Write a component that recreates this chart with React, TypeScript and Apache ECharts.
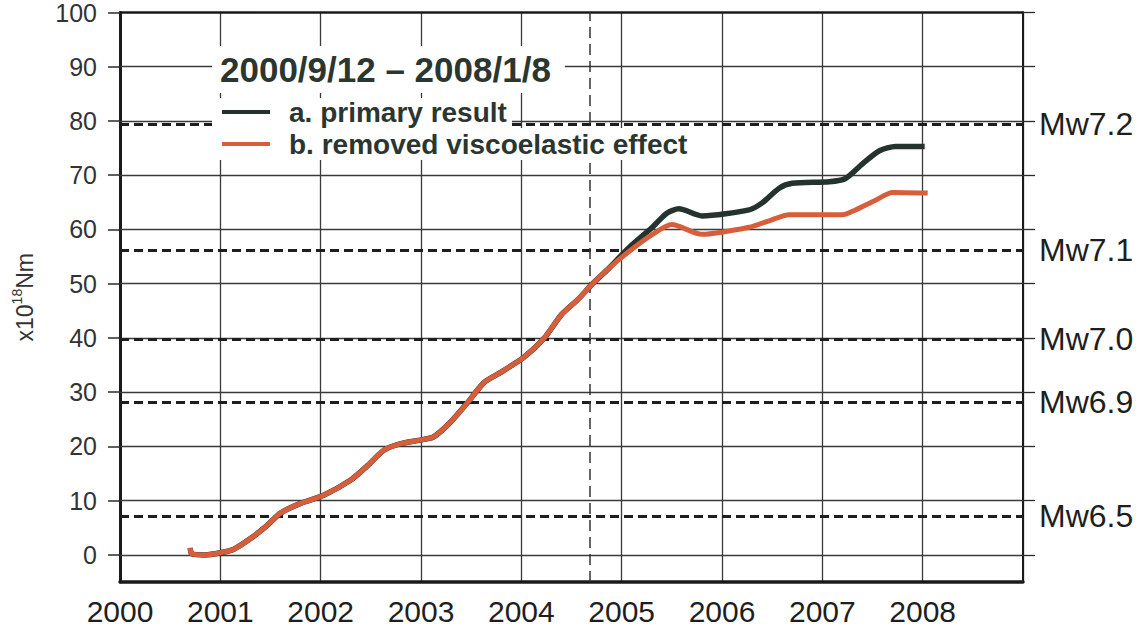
import React, { useEffect, useRef } from "react";
import * as echarts from "echarts";

// ---- data ----
const yearTicks = [2000, 2001, 2002, 2003, 2004, 2005, 2006, 2007, 2008];
const momentTicks = [0, 10, 20, 30, 40, 50, 60, 70, 80, 90, 100];

const sharedYears = [
  2000.7, 2000.715, 2000.85, 2001.0, 2001.13, 2001.3, 2001.47, 2001.6, 2001.8,
  2002.03, 2002.3, 2002.47, 2002.63, 2002.8, 2003.03, 2003.13, 2003.3, 2003.47,
  2003.63, 2003.8, 2004.03, 2004.23, 2004.4, 2004.57, 2004.7, 2004.87,
];
const sharedValues = [
  1.3, 0.2, 0.0, 0.4, 1.0, 3.0, 5.5, 7.7, 9.5,
  11.0, 13.8, 16.5, 19.3, 20.5, 21.3, 21.8, 24.6, 28.2,
  31.8, 33.7, 36.5, 40.0, 44.3, 47.2, 49.8, 52.8,
];

const primaryTailYears = [
  2005.07, 2005.3, 2005.45, 2005.57, 2005.8, 2006.27, 2006.4, 2006.57, 2006.7,
  2007.07, 2007.23, 2007.4, 2007.57, 2007.73, 2008.02,
];
const primaryTailValues = [
  56.6, 60.3, 63.0, 63.8, 62.5, 63.6, 64.9, 67.6, 68.5,
  68.8, 69.4, 72.1, 74.5, 75.3, 75.3,
];

const removedTailYears = [
  2005.07, 2005.3, 2005.5, 2005.8, 2006.27, 2006.47, 2006.67, 2007.2, 2007.33,
  2007.53, 2007.7, 2008.05,
];
const removedTailValues = [
  55.9, 59.0, 60.9, 59.1, 60.4, 61.6, 62.7, 62.7, 63.6,
  65.4, 66.8, 66.7,
];

const mwLabels = ["Mw7.2", "Mw7.1", "Mw7.0", "Mw6.9", "Mw6.5"];
const mwMoments = [79.4, 56.2, 39.8, 28.2, 7.1];

const markerYear = 2004.68;

const periodTitle = "2000/9/12 \u2013 2008/1/8";
const seriesNames = ["a. primary result", "b. removed viscoelastic effect"];

const FONT = "'Liberation Sans', Arial, Helvetica, sans-serif";

function pairs(xs: number[], ys: number[]) {
  return xs.map((x, i) => [x, ys[i]]);
}

export default function App() {
  const ref = useRef<HTMLDivElement>(null);

  useEffect(() => {
    document.body.style.margin = "0";
    document.body.style.background = "#fff";
    if (!ref.current) return;
    const chart = echarts.init(ref.current, null, { renderer: "svg" });

    const shared = pairs(sharedYears, sharedValues);
    const primaryData = shared.concat(pairs(primaryTailYears, primaryTailValues));
    const removedData = shared.concat(pairs(removedTailYears, removedTailValues));

    const option: any = {
      animation: false,
      backgroundColor: "#fff",
      textStyle: { fontFamily: FONT },
      grid: { left: 120, right: 124, top: 12, bottom: 50, containLabel: false },
      title: {
        text: periodTitle,
        left: 212,
        top: 46,
        padding: [6, 14, 6, 8],
        backgroundColor: "#fff",
        z: 20,
        textStyle: {
          fontFamily: FONT,
          fontSize: 35,
          fontWeight: "bold",
          color: "#2b3631",
        },
      },
      legend: {
        orient: "vertical",
        left: 212,
        top: 95,
        padding: [2, 8, 2, 10],
        itemWidth: 48,
        itemHeight: 4,
        itemGap: 2,
        icon: "rect",
        z: 20,
        data: seriesNames,
        textStyle: {
          fontFamily: FONT,
          fontSize: 28,
          fontWeight: "bold",
          color: "#2b3631",
          lineHeight: 30,
          padding: [0, 0, 0, 14],
        },
      },
      graphic: [
        {
          type: "rect",
          z: 15,
          silent: true,
          shape: { x: 212, y: 98, width: 300, height: 30 },
          style: { fill: "#fff" },
        },
        {
          type: "rect",
          z: 15,
          silent: true,
          shape: { x: 212, y: 128, width: 480, height: 32 },
          style: { fill: "#fff" },
        },
      ],
      xAxis: [
        {
          type: "value",
          position: "bottom",
          min: 2000,
          max: 2009,
          interval: 1,
          axisLine: { show: true, onZero: false, lineStyle: { color: "#1a1a1a", width: 3.5 } },
          axisTick: { show: false },
          axisLabel: {
            fontFamily: FONT,
            fontSize: 30,
            color: "#1e1e1e",
            margin: 14,
            formatter: (v: number) => (yearTicks.indexOf(v) >= 0 ? String(v) : ""),
          },
          splitLine: { show: true, lineStyle: { color: "#3a3a3a", width: 1.3 } },
        },
        {
          type: "value",
          position: "top",
          min: 2000,
          max: 2009,
          interval: 1,
          axisLine: { show: true, onZero: false, lineStyle: { color: "#1a1a1a", width: 2.5 } },
          axisTick: { show: false },
          axisLabel: { show: false },
          splitLine: { show: false },
        },
      ],
      yAxis: [
        {
          type: "value",
          position: "left",
          min: -5,
          max: 100,
          name: "{a|x10}{b|18}{a|Nm}",
          nameLocation: "middle",
          nameRotate: 90,
          nameGap: 84,
          nameTextStyle: {
            fontFamily: FONT,
            color: "#333",
            rich: {
              a: { fontFamily: FONT, fontSize: 23, color: "#333", lineHeight: 26, verticalAlign: "bottom" },
              b: { fontFamily: FONT, fontSize: 14, color: "#333", lineHeight: 26, verticalAlign: "top" },
            },
          },
          axisLine: { show: true, onZero: false, lineStyle: { color: "#1a1a1a", width: 3 } },
          axisTick: {
            show: true,
            length: 12,
            customValues: momentTicks,
            lineStyle: { color: "#2a2a2a", width: 1.5 },
          },
          axisLabel: {
            fontFamily: FONT,
            fontSize: 25,
            color: "#333",
            margin: 23,
            customValues: momentTicks,
          },
          splitLine: { show: false },
        },
        {
          type: "value",
          position: "right",
          min: -5,
          max: 100,
          axisLine: { show: true, onZero: false, lineStyle: { color: "#1a1a1a", width: 2 } },
          axisTick: {
            show: true,
            length: 12,
            customValues: momentTicks,
            lineStyle: { color: "#2a2a2a", width: 1.3 },
          },
          axisLabel: { show: false },
          splitLine: { show: false },
        },
      ],
      series: [
        {
          name: "gridlines",
          type: "line",
          data: [],
          silent: true,
          markLine: {
            silent: true,
            symbol: "none",
            z: 1,
            label: { show: false },
            lineStyle: { type: "solid", color: "#3a3a3a", width: 1.3 },
            data: momentTicks.slice(0, -1).map((v) => ({ yAxis: v })),
          },
        },
        {
          name: "magnitudes",
          type: "line",
          data: [],
          silent: true,
          markLine: {
            silent: true,
            symbol: "none",
            z: 2,
            label: {
              show: true,
              position: "end",
              distance: 16,
              formatter: "{b}",
              fontFamily: FONT,
              fontSize: 32,
              color: "#1e1e1e",
            },
            lineStyle: { type: [9, 5], color: "#1e1e1e", width: 3 },
            data: mwLabels
              .map((n, i) => ({ name: n, yAxis: mwMoments[i] }))
              .concat([
                {
                  name: "",
                  xAxis: markerYear,
                  label: { show: false },
                  lineStyle: { type: [11, 6], color: "#333", width: 1.5 },
                } as any,
              ]),
          },
        },
        {
          name: seriesNames[0],
          type: "line",
          z: 10,
          data: primaryData,
          showSymbol: false,
          symbol: "none",
          smooth: 0.25,
          color: "#24332d",
          lineStyle: { color: "#24332d", width: 5.5 },
        },
        {
          name: seriesNames[1],
          type: "line",
          z: 11,
          data: removedData,
          showSymbol: false,
          symbol: "none",
          smooth: 0.25,
          color: "#d85e3b",
          lineStyle: { color: "#d85e3b", width: 5 },
        },
      ],
    };

    chart.setOption(option);
    return () => chart.dispose();
  }, []);

  return <div ref={ref} style={{ width: 1147, height: 632 }} />;
}
